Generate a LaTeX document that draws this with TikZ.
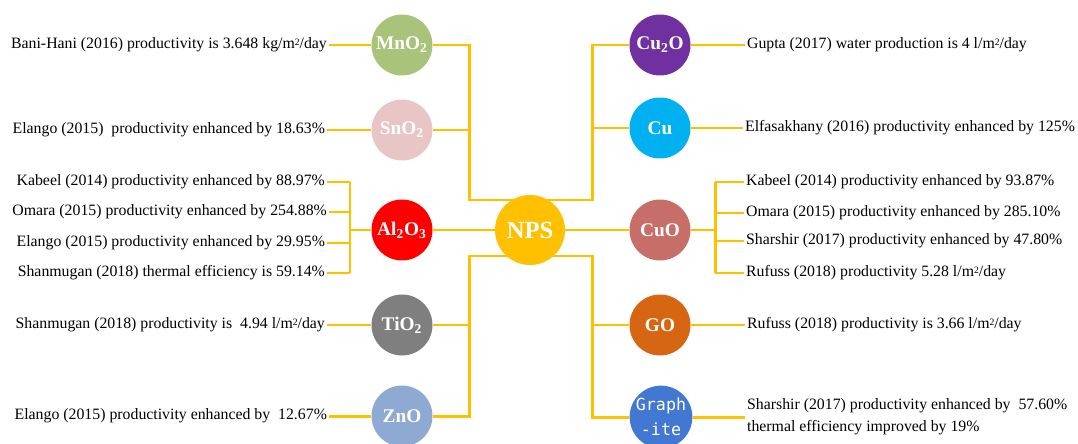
\documentclass[tikz,border=0pt]{standalone}
\usepackage{fontspec}
\setmainfont{Liberation Serif}
\newfontfamily\graphfont{DejaVu Sans Mono}
\usepackage{xcolor}
\usetikzlibrary{calc,backgrounds}

\definecolor{npsgold}{RGB}{255,192,0}
\definecolor{mnogreen}{RGB}{169,196,122}
\definecolor{snopink}{RGB}{233,198,198}
\definecolor{alred}{RGB}{255,0,0}
\definecolor{tiogray}{RGB}{127,127,127}
\definecolor{znoblue}{RGB}{143,170,210}
\definecolor{cutwopurple}{RGB}{112,48,160}
\definecolor{cublue}{RGB}{0,176,240}
\definecolor{cuorose}{RGB}{200,110,105}
\definecolor{gobrown}{RGB}{215,102,18}
\definecolor{graphblue}{RGB}{66,120,210}

\newcommand{\msq}{m\raisebox{0.5ex}{\fontsize{5.5}{6}\selectfont 2}}

\begin{document}
\begin{tikzpicture}[x=0.02cm, y=-0.02cm,
    np/.style={circle, fill=#1, minimum size=1.22cm, inner sep=0pt,
      text=white, font=\fontsize{11}{13}\selectfont\bfseries},
    ref/.style={inner sep=1pt, font=\fontsize{9}{12.5}\selectfont},
    link/.style={draw=npsgold, line width=1.7pt}]

    \useasboundingbox (0,0) rectangle (1078,443);

    % Centre
    \node[np=npsgold, minimum size=1.4cm,
      font=\fontsize{14}{16}\selectfont\bfseries] (NPS) at (530,230) {NPS};

    % Trunks
    \coordinate (L1) at (469,200);
    \coordinate (L2) at (469,256);
    \coordinate (R1) at (592,200);
    \coordinate (R2) at (592,256);

    % Brackets
    \coordinate (A) at (350,230);
    \coordinate (C) at (715,230);

    % Left particles
    \node[np=mnogreen] (MnO2) at (402,45) {MnO\textsubscript{2}};
    \node[np=snopink] (SnO2) at (402,130) {SnO\textsubscript{2}};
    \node[np=alred] (Al2O3) at (402,230) {Al\textsubscript{2}O\textsubscript{3}};
    \node[np=tiogray] (TiO2) at (402,325) {TiO\textsubscript{2}};
    \node[np=znoblue] (ZnO) at (402,416) {ZnO};

    % Right particles
    \node[np=cutwopurple] (Cu2O) at (660,45) {Cu\textsubscript{2}O};
    \node[np=cublue] (Cu) at (660,128) {Cu};
    \node[np=cuorose] (CuO) at (660,230) {CuO};
    \node[np=gobrown] (GO) at (660,325) {GO};
    \node[np=graphblue, align=center,
      font=\fontsize{9.5}{14}\selectfont\graphfont] (Graph) at (661,417) {Graph\\-ite};

    % Left references
    \node[ref, anchor=east] (bani) at (329,45)
      {Bani-Hani (2016) productivity is 3.648 kg/\msq/day};
    \node[ref, anchor=east] (elsno) at (327,130)
      {Elango (2015)~ productivity enhanced by 18.63\%};
    \node[ref, anchor=east] (kabal) at (327,182)
      {Kabeel (2014) productivity enhanced by 88.97\%};
    \node[ref, anchor=east] (omal) at (329,212)
      {Omara (2015) productivity enhanced by 254.88\%};
    \node[ref, anchor=east] (elal) at (327,243)
      {Elango (2015) productivity enhanced by 29.95\%};
    \node[ref, anchor=east] (shal) at (327,273)
      {Shanmugan (2018) thermal efficiency is 59.14\%};
    \node[ref, anchor=east] (shtio) at (327,325)
      {Shanmugan (2018) productivity is~ 4.94 l/\msq/day};
    \node[ref, anchor=east] (elzno) at (329,416)
      {Elango (2015) productivity enhanced by~ 12.67\%};

    % Right references
    \node[ref, anchor=west] (gupta) at (745,45)
      {Gupta (2017) water production is 4 l/\msq/day};
    \node[ref, anchor=west] (elfa) at (743,128)
      {Elfasakhany (2016) productivity enhanced by 125\%};
    \node[ref, anchor=west] (kabcu) at (744,182)
      {Kabeel (2014) productivity enhanced by 93.87\%};
    \node[ref, anchor=west] (omcu) at (744,213)
      {Omara (2015) productivity enhanced by 285.10\%};
    \node[ref, anchor=west] (shcu) at (744,241)
      {Sharshir (2017) productivity enhanced by 47.80\%};
    \node[ref, anchor=west] (rucu) at (744,273)
      {Rufuss (2018) productivity 5.28 l/\msq/day};
    \node[ref, anchor=west] (rugo) at (745,325)
      {Rufuss (2018) productivity is 3.66 l/\msq/day};
    \node[ref, anchor=west, align=left] (shgr) at (745,417)
      {Sharshir (2017) productivity enhanced by~ 57.60\%\\thermal efficiency improved by 19\%};

    % Connectors
    \begin{scope}[on background layer]
      % left side
      \draw[link] (bani.east) -- (MnO2);
      \draw[link] (elsno.east) -- (SnO2);
      \draw[link] (shtio.east) -- (TiO2);
      \draw[link] (elzno.east) -- (ZnO);
      \draw[link] (MnO2) -| (L1) -- (L1 -| NPS);
      \draw[link] (SnO2) -- (SnO2 -| L1);
      \draw[link] (ZnO) -| (L2) -- (L2 -| NPS);
      \draw[link] (TiO2) -- (TiO2 -| L2);
      \draw[link] (Al2O3) -- (NPS) -- (CuO);
      \draw[link] (Al2O3) -- (A);
      \draw[link] (A |- kabal) -- (A |- shal);
      \foreach \t in {kabal,omal,elal,shal}
        \draw[link] (\t.east) -- (A |- \t);
      % right side
      \draw[link] (Cu2O) -| (R1) -- (R1 -| NPS);
      \draw[link] (Cu) -- (Cu -| R1);
      \draw[link] (Graph) -| (R2) -- (R2 -| NPS);
      \draw[link] (GO) -- (GO -| R2);
      \draw[link] (Cu2O) -- (gupta.west);
      \draw[link] (Cu) -- (elfa.west);
      \draw[link] (GO) -- (rugo.west);
      \draw[link] (Graph) -- (Graph -| shgr.west);
      \draw[link] (CuO) -- (C);
      \draw[link] (C |- kabcu) -- (C |- rucu);
      \foreach \t in {kabcu,omcu,shcu,rucu}
        \draw[link] (C |- \t) -- (\t.west);
    \end{scope}

\end{tikzpicture}
\end{document}
